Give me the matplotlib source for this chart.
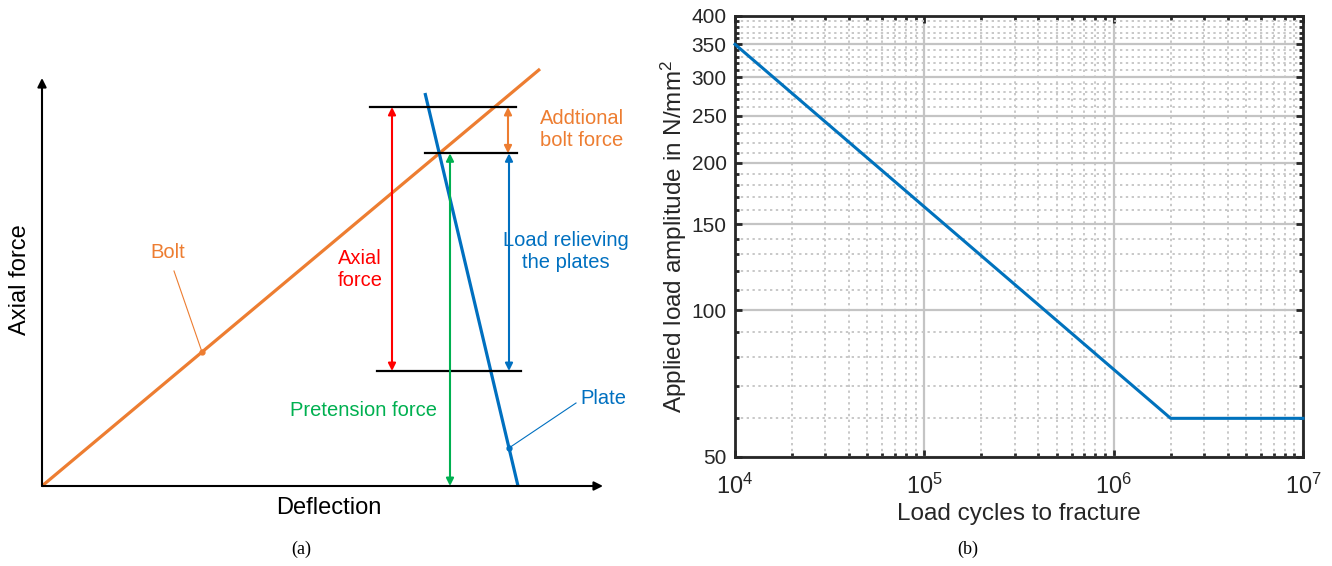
import numpy as np
import matplotlib
matplotlib.use('Agg')
import matplotlib.pyplot as plt
from matplotlib.ticker import FixedLocator, LogFormatterSciNotation, NullFormatter

plt.rcParams['font.family'] = ['Liberation Sans', 'DejaVu Sans']
plt.rcParams['mathtext.fontset'] = 'custom'
plt.rcParams['mathtext.rm'] = 'Liberation Sans'
plt.rcParams['mathtext.it'] = 'Liberation Sans:italic'

# ---- (a) joint diagram, schematic units (deflection, axial force)
bolt_x = [0, 498]
bolt_y = [0, 417]
plate_x = [383, 476]
plate_y = [393, 0]
force_top = 379      # max axial force in the bolt
force_low = 115      # remaining clamp force
top_line = [328, 474]
mid_line = [383, 475]
low_line = [335, 479]
x_axis_end = 561
y_axis_end = 408

# ---- (b) S-N curve
cycles = [1e4, 2e6, 1e7]
amplitude = [350, 60, 60]
y_ticks = [50, 100, 150, 200, 250, 300, 350, 400]
x_ticks = [1e4, 1e5, 1e6, 1e7]

ORANGE = '#ED7D31'
BLUE = '#0070C0'
RED = '#FF0000'
GREEN = '#00B050'

fig = plt.figure(figsize=(13.32, 5.66), dpi=100)

ax1 = fig.add_axes([0, 0, 660 / 1332, 1])
ax1.set_xlim(-42, 618)
ax1.set_ylim(-80, 486)
ax1.axis('off')

# pretension force = where bolt and plate lines cross
kb = bolt_y[1] / bolt_x[1]
kp = (plate_y[1] - plate_y[0]) / (plate_x[1] - plate_x[0])
x_int = (plate_y[0] - kp * plate_x[0]) / (kb - kp)
force_pre = kb * x_int


def arrow(ax, p0, p1, color, style='<|-|>', lw=1.5, ms=11):
    ax.annotate('', xy=p1, xytext=p0,
                arrowprops=dict(arrowstyle=style, color=color, lw=lw,
                                mutation_scale=ms, shrinkA=0, shrinkB=0))


# axes
arrow(ax1, (0, 0), (x_axis_end, 0), 'black', '-|>', 1.5, 13)
arrow(ax1, (0, 0), (0, y_axis_end), 'black', '-|>', 1.5, 13)

ax1.plot(bolt_x, bolt_y, color=ORANGE, lw=2.3, solid_capstyle='butt')
ax1.plot(plate_x, plate_y, color=BLUE, lw=2.3, solid_capstyle='butt')

ax1.plot(top_line, [force_top] * 2, color='black', lw=1.6)
ax1.plot(mid_line, [force_pre] * 2, color='black', lw=1.6)
ax1.plot(low_line, [force_low] * 2, color='black', lw=1.6)

arrow(ax1, (350, force_low), (350, force_top), RED)
arrow(ax1, (408, 0), (408, force_pre), GREEN)
arrow(ax1, (467, force_low), (467, force_pre), BLUE)
arrow(ax1, (466, force_pre), (466, force_top), ORANGE)

# leaders
ax1.plot([132, 160], [215, kb * 160], color=ORANGE, lw=0.8)
ax1.plot([160], [kb * 160], 'o', color=ORANGE, ms=3.5)
xp = 467
yp = plate_y[0] + kp * (xp - plate_x[0])
ax1.plot([534, xp], [83, yp], color=BLUE, lw=0.8)
ax1.plot([xp], [yp], 'o', color=BLUE, ms=3.5)

fs = 14.5
ax1.text(498, 357, 'Addtional\nbolt force', color=ORANGE, fontsize=fs, ha='left', va='center')
ax1.text(524, 235, 'Load relieving\nthe plates', color=BLUE, fontsize=fs, ha='center', va='center', multialignment='center')
ax1.text(318, 217, 'Axial\nforce', color=RED, fontsize=fs, ha='center', va='center', multialignment='center')
ax1.text(322, 75, 'Pretension force', color=GREEN, fontsize=fs, ha='center', va='center')
ax1.text(538, 87, 'Plate', color=BLUE, fontsize=fs, ha='left', va='center')
ax1.text(126, 233, 'Bolt', color=ORANGE, fontsize=fs, ha='center', va='center')
ax1.text(-22, 206, 'Axial force', fontsize=17, rotation=90, ha='center', va='center')
ax1.text(287, -22, 'Deflection', fontsize=17, ha='center', va='center')
ax1.text(259, -63, '(a)', fontsize=13, ha='center', va='center', family='Liberation Serif')

# ---- (b)
ax2 = fig.add_axes([735 / 1332, 1 - 457 / 566, (1303 - 735) / 1332, (457 - 16) / 566])
ax2.plot(cycles, amplitude, color='#0072BD', lw=2.2, zorder=3, clip_on=False)
ax2.set_xscale('log')
ax2.set_yscale('log')
ax2.set_xlim(1e4, 1e7)
ax2.set_ylim(50, 400)

ax2.yaxis.set_major_locator(FixedLocator(y_ticks))
ax2.yaxis.set_major_formatter(matplotlib.ticker.FixedFormatter([str(v) for v in y_ticks]))
ax2.yaxis.set_minor_locator(FixedLocator([v for v in range(60, 400, 10) if v % 50]))
ax2.yaxis.set_minor_formatter(NullFormatter())
ax2.xaxis.set_major_locator(FixedLocator(x_ticks))
ax2.xaxis.set_major_formatter(LogFormatterSciNotation())
ax2.xaxis.set_minor_locator(FixedLocator([m * 10 ** e for e in range(4, 7) for m in range(2, 10)]))
ax2.xaxis.set_minor_formatter(NullFormatter())

ax2.grid(which='major', color='#c4c4c4', lw=1.6, ls='-')
ax2.grid(which='minor', color='#c8c8c8', lw=1.4, ls=(0, (1.2, 1.8)))
ax2.set_axisbelow(True)

dark = '#262626'
for s in ax2.spines.values():
    s.set_linewidth(2.0)
    s.set_color(dark)
ax2.tick_params(which='both', direction='in', top=True, right=True, colors=dark, width=2.0)
ax2.tick_params(which='major', length=5)
ax2.tick_params(which='minor', length=3)
ax2.tick_params(axis='y', which='major', labelsize=15, pad=6)
ax2.tick_params(axis='x', which='major', labelsize=17, pad=12)

ax2.set_xlabel('Load cycles to fracture', fontsize=17.5, color=dark, labelpad=3)
ax2.set_ylabel('Applied load amplitude in N/mm$^2$', fontsize=17.5, color=dark, labelpad=2)

fig.text(968 / 1332, 1 - 549 / 566, '(b)', fontsize=13, ha='center', va='center', family='Liberation Serif')

fig.savefig('out.png', dpi=100)
